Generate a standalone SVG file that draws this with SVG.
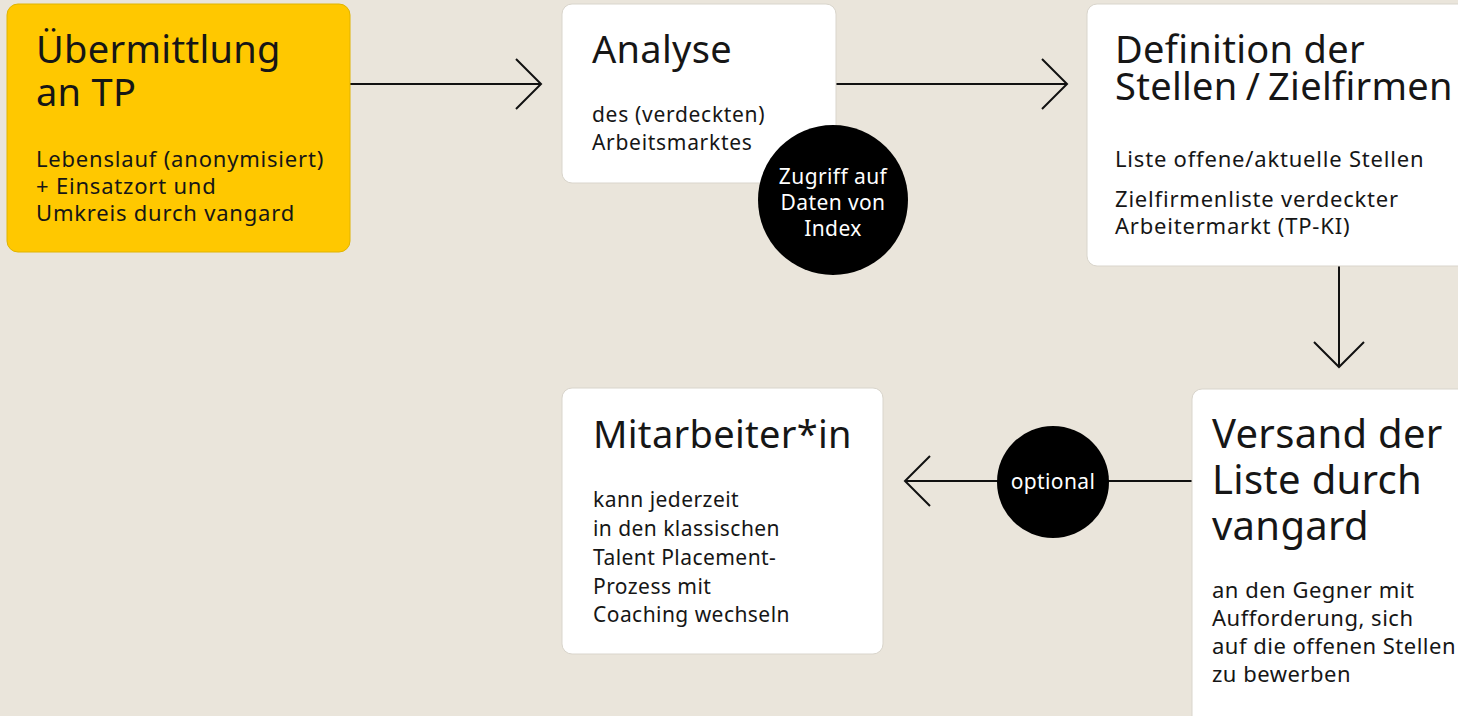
<svg xmlns="http://www.w3.org/2000/svg" width="1458" height="716" viewBox="0 0 1458 716">
<style>
.bg{fill:#EAE5DB}
.box{fill:#FFFFFF;stroke:#D9D5CC;stroke-width:1}
.ybox{fill:#FFC800;stroke:#E0B400;stroke-width:1}
.t{font-family:"Noto Sans","Open Sans",sans-serif;font-size:38px;letter-spacing:0.3px;fill:#161616}
.tv{font-size:40px}
.b{font-family:"Noto Sans","Open Sans",sans-serif;font-size:22px;letter-spacing:0.8px;fill:#161616}
.bv{letter-spacing:0.5px}
.ba{font-size:21px;letter-spacing:0.7px}
.bm{font-size:21px;letter-spacing:0.45px}
.c{font-family:"Noto Sans","Open Sans",sans-serif;font-size:21px;letter-spacing:0.4px;fill:#FFFFFF;text-anchor:middle}
.ln{fill:none;stroke:#111;stroke-width:2}
.dot{fill:#000}
</style>
<rect class="bg" x="0" y="0" width="1458" height="716"/>
<g id="connectors">
<path class="ln" d="M350 84 H541 M516 59 L541 84 L516 109"/>
<path class="ln" d="M836 84 H1067 M1042 59 L1067 84 L1042 109"/>
<path class="ln" d="M1339 266 V367 M1314 342 L1339 367 L1364 342"/>
<path class="ln" d="M1192 481 H905 M930 456 L905 481 L930 506"/>
</g>
<g id="node-uebermittlung">
<rect class="ybox" x="7" y="4" width="343" height="248" rx="11"/>
<text class="t" x="36" y="63">Übermittlung</text>
<text class="t" x="36" y="106">an TP</text>
<text class="b" x="36" y="167">Lebenslauf (anonymisiert)</text>
<text class="b" x="36" y="194">+ Einsatzort und</text>
<text class="b" x="36" y="221">Umkreis durch vangard</text>
</g>
<g id="node-analyse">
<rect class="box" x="562" y="4" width="274" height="179" rx="10"/>
<text class="t" x="592" y="63">Analyse</text>
<text class="b ba" x="592" y="122">des (verdeckten)</text>
<text class="b ba" x="592" y="150">Arbeitsmarktes</text>
</g>
<g id="node-zugriff">
<circle class="dot" cx="833" cy="200" r="75"/>
<text class="c" x="833" y="184">Zugriff auf</text>
<text class="c" x="833" y="210">Daten von</text>
<text class="c" x="833" y="236">Index</text>
</g>
<g id="node-definition">
<rect class="box" x="1087" y="4" width="390" height="262" rx="10"/>
<text class="t" x="1115" y="63">Definition der</text>
<text class="t" x="1115" y="100">Stellen<tspan dx="8">/</tspan><tspan dx="8">Zielfirmen</tspan></text>
<text class="b" x="1115" y="167">Liste offene/aktuelle Stellen</text>
<text class="b" x="1115" y="207">Zielfirmenliste verdeckter</text>
<text class="b" x="1115" y="234">Arbeitermarkt (TP-KI)</text>
</g>
<g id="node-versand">
<rect class="box" x="1192" y="389" width="290" height="340" rx="10"/>
<text class="t tv" x="1212" y="448">Versand der</text>
<text class="t tv" x="1212" y="494">Liste durch</text>
<text class="t tv" x="1212" y="540">vangard</text>
<text class="b bv" x="1212" y="598">an den Gegner mit</text>
<text class="b bv" x="1212" y="626">Aufforderung, sich</text>
<text class="b bv" x="1212" y="654">auf die offenen Stellen</text>
<text class="b bv" x="1212" y="682">zu bewerben</text>
</g>
<g id="node-optional">
<circle class="dot" cx="1053" cy="482" r="56"/>
<text class="c" x="1053" y="489">optional</text>
</g>
<g id="node-mitarbeiter">
<rect class="box" x="562" y="388" width="321" height="266" rx="10"/>
<text class="t" x="593" y="448">Mitarbeiter*in</text>
<text class="b bm" x="593" y="507">kann jederzeit</text>
<text class="b bm" x="593" y="536">in den klassischen</text>
<text class="b bm" x="593" y="565">Talent Placement-</text>
<text class="b bm" x="593" y="594">Prozess mit</text>
<text class="b bm" x="593" y="622">Coaching wechseln</text>
</g>
</svg>
